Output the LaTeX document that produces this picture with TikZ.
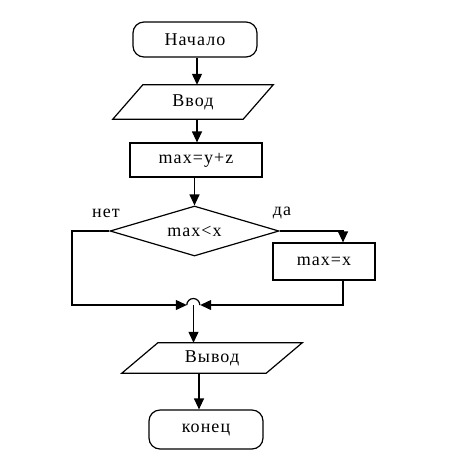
\documentclass[tikz,border=0pt]{standalone}
\usepackage{fontspec}
\setmainfont[LetterSpace=6]{Liberation Serif}
\usetikzlibrary{arrows.meta,shapes.geometric}
\tikzset{
  every node/.style={font=\fontsize{18}{20}\selectfont},
  base/.style={line width=1.2pt},
  terminal/.style={base,draw,rounded corners=11pt,inner sep=0pt},
  procbox/.style={base,draw,rectangle,inner sep=0pt},
  parabox/.style={rectangle,inner sep=0pt},
  decbox/.style={base,draw,diamond,aspect=3.4,inner sep=0pt,minimum width=169pt,minimum height=50pt},
  arr/.style={base,-{Triangle[length=11pt,width=10pt]}},
  ln/.style={base}
}
\begin{document}
\begin{tikzpicture}[x=1pt,y=-1pt]
\useasboundingbox (0,0) rectangle (452,451);
% nodes
\node[terminal,minimum width=124pt,minimum height=35pt] (start) at (195,39.5) {Начало};
\node[parabox,minimum width=130pt,minimum height=34pt] (vvod) at (193,102) {Ввод\hspace{38pt}};
\draw[base] ([xshift=15pt]vvod.north west) -- ([xshift=15pt]vvod.north east)
  -- ([xshift=-15pt]vvod.south east) -- ([xshift=-15pt]vvod.south west) -- cycle;
\node[procbox,minimum width=132pt,minimum height=34pt] (calc) at (196,160) {max=y+z};
\node[decbox] (cond) at (194.5,231) {max<x};
\node[procbox,minimum width=102pt,minimum height=37pt] (maxx) at (324,261.5) {max=x};
\node[circle,minimum size=13pt,inner sep=0pt] (m) at (193.5,305) {};
\draw[base] (m.west) arc[start angle=180,end angle=0,radius=6.5pt];
\node[parabox,minimum width=144pt,minimum height=30pt] (vyvod) at (212,358) {Вывод};
\draw[base] ([xshift=18pt]vyvod.north west) -- ([xshift=18pt]vyvod.north east)
  -- ([xshift=-18pt]vyvod.south east) -- ([xshift=-18pt]vyvod.south west) -- cycle;
\node[terminal,minimum width=114pt,minimum height=39pt] (stop) at (206,429.5) {конец};
\node (no) at (106,213) {нет};
\node (yes) at (282,213) {да};
\coordinate (lc) at (72,305);
% connectors
\draw[arr] ([xshift=2pt]start.south) -- ([xshift=2pt]start.south |- vvod.north);
\draw[arr] ([xshift=1pt]calc.north |- vvod.south) -- ([xshift=1pt]calc.north);
\draw[arr] (calc.south -| cond.north) -- (cond.north);
\draw[arr] (cond.east) -| ([xshift=19pt]maxx.north);
\draw[arr] (cond.west) -| (lc) -- (m.west);
\draw[arr] ([xshift=19pt]maxx.south) |- (m.east);
\draw[arr] (m.center) -- (m.center |- vyvod.north);
\draw[arr] ([xshift=-7pt]stop.north |- vyvod.south) -- ([xshift=-7pt]stop.north);
\end{tikzpicture}
\end{document}
